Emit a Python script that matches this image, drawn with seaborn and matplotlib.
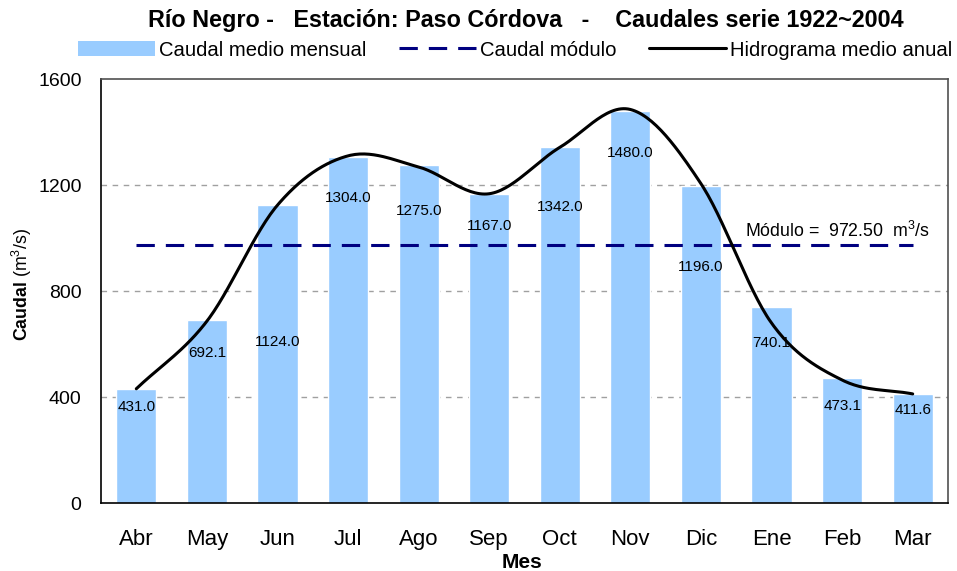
import numpy as np
import pandas as pd
import matplotlib
matplotlib.use("Agg")
import matplotlib.pyplot as plt
from matplotlib.patches import Patch
from matplotlib.lines import Line2D
import seaborn as sns

# Monthly data, hydrological year April -> March
meses = ["Abr", "May", "Jun", "Jul", "Ago", "Sep", "Oct", "Nov", "Dic", "Ene", "Feb", "Mar"]
caudal_medio = [431.0, 692.1, 1124.0, 1304.0, 1275.0, 1167.0, 1342.0, 1480.0, 1196.0, 740.1, 473.1, 411.6]
hidrograma = [431.0, 686.0, 1124.0, 1310.0, 1268.0, 1167.0, 1342.0, 1485.0, 1205.0, 679.0, 464.0, 411.6]
modulo = 972.50
y_ticks = [0, 400, 800, 1200, 1600]

# label placement below each bar top (pixels)
label_drop_px = [18, 33, 137, 41, 46, 32, 60, 42, 81, 36, 28, 16]

sns.set_theme(style="white")
plt.rcParams["font.family"] = ["Liberation Sans", "DejaVu Sans"]
plt.rcParams["text.color"] = "black"
plt.rcParams["axes.labelcolor"] = "black"
plt.rcParams["xtick.color"] = "black"
plt.rcParams["ytick.color"] = "black"
plt.rcParams["mathtext.fontset"] = "custom"
plt.rcParams["mathtext.rm"] = "Liberation Sans"
plt.rcParams["mathtext.it"] = "Liberation Sans:italic"
plt.rcParams["mathtext.bf"] = "Liberation Sans:bold"

W, H = 957, 571
fig = plt.figure(figsize=(W / 100, H / 100), dpi=100)
fig.patch.set_facecolor("white")

def px(x, y):
    return x / W, 1 - y / H

left, right, top, bottom = 101, 948, 79, 503
ax = fig.add_axes([left / W, (H - bottom) / H, (right - left) / W, (bottom - top) / H])

df = pd.DataFrame({"Mes": meses, "Caudal": caudal_medio})
sns.barplot(data=df, x="Mes", y="Caudal", color="#99CCFF", saturation=1,
            width=0.57, ax=ax, zorder=2)

# smoothed hydrograph (Catmull-Rom through monthly points)
def catmull_rom(vals, n=30):
    p = np.asarray(vals, dtype=float)
    ext = np.concatenate([[2 * p[0] - p[1]], p, [2 * p[-1] - p[-2]]])
    xs, ys = [], []
    for i in range(len(p) - 1):
        p0, p1, p2, p3 = ext[i], ext[i + 1], ext[i + 2], ext[i + 3]
        t = np.linspace(0, 1, n, endpoint=(i == len(p) - 2))
        m1 = (p2 - p0) / 2
        m2 = (p3 - p1) / 2
        h00 = 2 * t**3 - 3 * t**2 + 1
        h10 = t**3 - 2 * t**2 + t
        h01 = -2 * t**3 + 3 * t**2
        h11 = t**3 - t**2
        ys.append(h00 * p1 + h10 * m1 + h01 * p2 + h11 * m2)
        xs.append(i + t)
    return np.concatenate(xs), np.concatenate(ys)

hx, hy = catmull_rom(hidrograma)
ax.plot(hx, hy, color="black", lw=2.2, zorder=4, solid_capstyle="round")

# module line
ax.plot([0, len(meses) - 1], [modulo, modulo], color="#000080", lw=2.2,
        linestyle=(0, (6, 3.6)), zorder=3)
ax.text(8.62, modulo + 18, "Módulo =  %.2f  m$^{3}$/s" % modulo, fontsize=12.8,
        ha="left", va="bottom", color="black", zorder=5)

# value labels
for i, (v, d) in enumerate(zip(caudal_medio, label_drop_px)):
    ax.annotate(f"{v:.1f}", xy=(i, v), xytext=(0, -d * 0.72), textcoords="offset points",
                ha="center", va="center", fontsize=11, color="black", zorder=5)

# axes
ax.set_xlim(-0.5, len(meses) - 0.5)
ax.set_ylim(0, 1600)
ax.set_yticks(y_ticks)
ax.set_yticklabels([str(t) for t in y_ticks])
for yv in y_ticks[1:-1]:
    ax.axhline(yv, color="#a0a0a0", lw=1, linestyle=(0, (4, 4)), zorder=1)

ax.set_xticks(range(len(meses)))
ax.set_xticklabels(meses)
ax.set_xticks(np.arange(-0.5, len(meses), 1.0), minor=True)
ax.tick_params(axis="x", which="major", length=0, pad=19, labelsize=16)
ax.tick_params(axis="x", which="minor", length=6, width=1, color="black", direction="out")
ax.tick_params(axis="y", which="major", length=6, width=1, color="black", direction="out",
               pad=8, labelsize=14)
ax.tick_params(axis="both", labelcolor="black")
ax.set_xlabel("")
ax.set_ylabel("")

for s in ["left", "bottom"]:
    ax.spines[s].set_color("black")
    ax.spines[s].set_linewidth(1.2)
for s in ["top", "right"]:
    ax.spines[s].set_color("#505050")
    ax.spines[s].set_linewidth(1.2)
    ax.spines[s].set_visible(True)

# titles and axis labels
fig.text(*px(526, 20), "Río Negro -   Estación: Paso Córdova   -    Caudales serie 1922~2004",
         ha="center", va="center", fontsize=16.8, fontweight="bold")
fig.text(*px(522, 562), "Mes", ha="center", va="center", fontsize=15, fontweight="bold")
fig.text(*px(22, 284), r"$\mathbf{Caudal}$ (m$^{3}$/s)", rotation=90,
         ha="center", va="center", fontsize=12.8)

# legend
handles = [
    Patch(facecolor="#99CCFF", edgecolor="none"),
    Line2D([], [], color="#000080", lw=2.2, linestyle=(0, (6, 3.6))),
    Line2D([], [], color="black", lw=2.2),
]
labels = ["Caudal medio mensual", "Caudal módulo", "Hidrograma medio anual"]
fig.legend(handles, labels, loc="center", bbox_to_anchor=px(515, 50), ncol=3,
           frameon=False, fontsize=14.6, handlelength=3.8, handleheight=0.75,
           handletextpad=0.2, columnspacing=1.6, borderpad=0, borderaxespad=0)

fig.savefig("out.png", dpi=100, facecolor="white")
